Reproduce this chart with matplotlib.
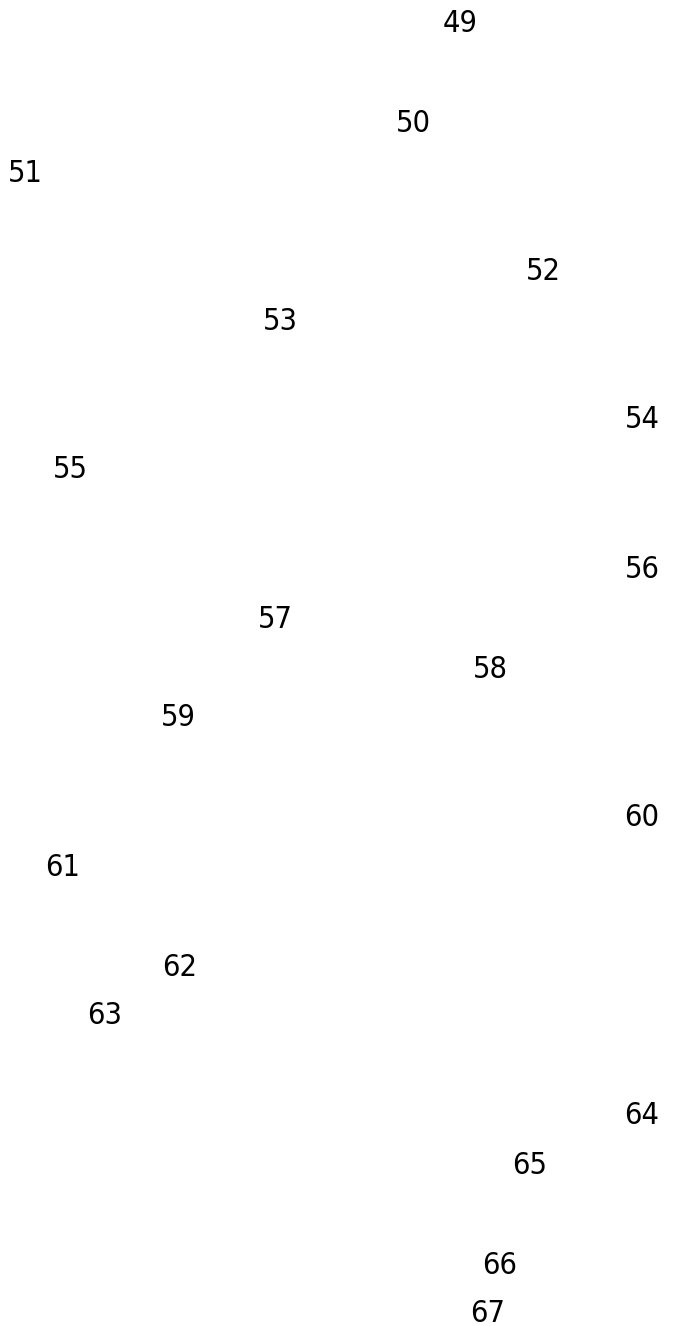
import matplotlib.pyplot as plt

# label values and where they sit (pixel coords of the reference)
labels = [49, 50, 51, 52, 53, 54, 55, 56, 57, 58,
          59, 60, 61, 62, 63, 64, 65, 66, 67]
x_pos = [460, 413, 25, 543, 280, 642, 70, 642, 275, 490,
         178, 642, 63, 180, 105, 642, 530, 500, 488]
y_pos = [21, 120, 170, 269, 319, 417, 467, 567, 616, 666,
         715, 815, 864, 964, 1013, 1113, 1162, 1262, 1311]

fig = plt.figure(figsize=(6.73, 13.26), dpi=100)
ax = fig.add_axes([0, 0, 1, 1])
ax.set_xlim(0, 673)
ax.set_ylim(1326, 0)
ax.axis("off")

for lab, x, y in zip(labels, x_pos, y_pos):
    ax.text(x, y, str(lab), ha="center", va="center_baseline",
            fontsize=22, family="DejaVu Sans", fontstretch="condensed",
            color="black")

fig.savefig("out.png", dpi=100)
